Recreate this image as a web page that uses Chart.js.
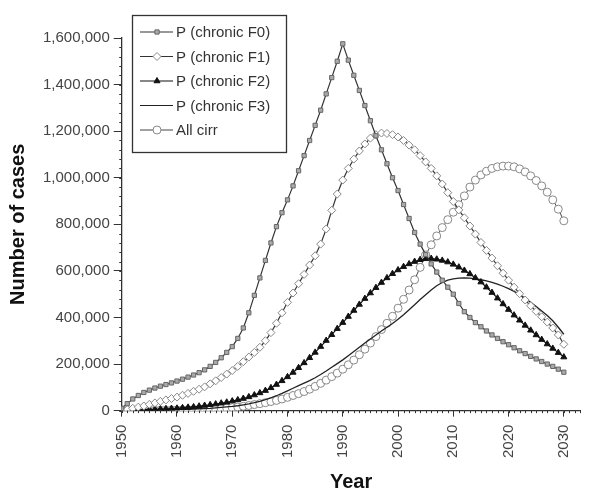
<!DOCTYPE html>
<html>
<head>
<meta charset="utf-8">
<script src="https://cdn.jsdelivr.net/npm/chart.js@4.4.0/dist/chart.umd.min.js"></script>
<style>
  html, body { margin: 0; padding: 0; background: #fff; }
  #wrap { width: 590px; height: 491px; }
</style>
</head>
<body>
<div id="wrap"><canvas id="myChart"></canvas></div>
<script>
// years 1950..2030, one point per year
const years = Array.from({ length: 81 }, (_, i) => 1950 + i);
const xTicks = [1950, 1960, 1970, 1980, 1990, 2000, 2010, 2020, 2030];
const yTicks = [0, 200000, 400000, 600000, 800000, 1000000, 1200000, 1400000, 1600000];

const chronicF0 = [
  10000, 30000, 50000, 65000, 78000, 88000, 97000, 105000, 112000, 119000,
  127000, 135000, 144000, 153000, 163000, 175000, 190000, 207000, 227000, 250000,
  275000, 310000, 355000, 420000, 495000, 570000, 645000, 720000, 790000, 850000,
  905000, 965000, 1030000, 1095000, 1160000, 1225000, 1290000, 1360000, 1430000, 1500000,
  1575000, 1505000, 1440000, 1375000, 1310000, 1245000, 1180000, 1120000, 1060000, 1000000,
  945000, 885000, 825000, 765000, 715000, 670000, 630000, 595000, 560000, 530000,
  500000, 460000, 425000, 400000, 378000, 360000, 342000, 325000, 310000, 296000,
  283000, 270000, 257000, 245000, 233000, 222000, 211000, 200000, 190000, 178000,
  165000
];
const chronicF1 = [
  0, 5000, 10000, 15000, 20000, 27000, 33000, 40000, 46000, 52000,
  58000, 66000, 74000, 83000, 92000, 102000, 115000, 128000, 142000, 157000,
  172000, 190000, 210000, 230000, 250000, 272000, 300000, 335000, 375000, 420000,
  465000, 505000, 545000, 585000, 625000, 665000, 715000, 780000, 860000, 930000,
  990000, 1040000, 1080000, 1115000, 1145000, 1170000, 1185000, 1192000, 1190000, 1185000,
  1175000, 1160000, 1140000, 1120000, 1095000, 1068000, 1040000, 1008000, 973000, 936000,
  898000, 862000, 828000, 793000, 758000, 722000, 688000, 655000, 622000, 590000,
  560000, 530000, 502000, 475000, 450000, 426000, 403000, 380000, 355000, 325000,
  285000
];
const chronicF2 = [
  0, 1000, 2000, 3000, 4000, 5000, 6000, 7000, 8000, 9000,
  10000, 12000, 14000, 16000, 19000, 22000, 25000, 28000, 32000, 36000,
  41000, 46000, 52000, 59000, 67000, 76000, 86000, 98000, 112000, 128000,
  145000, 164000, 184000, 205000, 227000, 250000, 275000, 301000, 326000, 352000,
  378000, 404000, 430000, 456000, 481000, 505000, 528000, 550000, 570000, 588000,
  604000, 618000, 630000, 640000, 648000, 652000, 653000, 650000, 645000, 638000,
  628000, 616000, 602000, 587000, 570000, 552000, 530000, 507000, 483000, 458000,
  434000, 410000, 388000, 366000, 345000, 325000, 305000, 286000, 267000, 249000,
  230000
];
const chronicF3 = [
  0, 500, 1000, 1500, 2000, 2500, 3000, 3500, 4000, 4500,
  5000, 5500, 6000, 7000, 8000, 9000, 10000, 12000, 14000, 16000,
  18000, 21000, 25000, 29000, 34000, 40000, 47000, 55000, 64000, 74000,
  85000, 96000, 107000, 118000, 129000, 141000, 155000, 170000, 186000, 202000,
  218000, 236000, 254000, 272000, 290000, 308000, 325000, 342000, 358000, 374000,
  392000, 412000, 433000, 455000, 477000, 498000, 518000, 536000, 550000, 560000,
  566000, 569000, 570000, 569000, 566000, 562000, 557000, 551000, 543000, 534000,
  524000, 512000, 498000, 482000, 465000, 447000, 428000, 408000, 386000, 358000,
  328000
];
const allCirr = [
  0, 200, 400, 600, 800, 1000, 1300, 1600, 2000, 2400,
  2800, 3300, 3800, 4400, 5000, 6000, 7000, 8000, 9500, 11000,
  13000, 15500, 18500, 22000, 26000, 30000, 34000, 39000, 44000, 50000,
  57000, 65000, 73000, 82000, 92000, 104000, 117000, 131000, 146000, 161000,
  178000, 197000, 217000, 240000, 264000, 290000, 318000, 348000, 375000, 405000,
  440000, 478000, 518000, 562000, 615000, 668000, 712000, 750000, 786000, 820000,
  852000, 884000, 922000, 960000, 990000, 1012000, 1028000, 1040000, 1047000, 1050000,
  1050000, 1047000, 1038000, 1025000, 1008000, 988000, 965000, 938000, 905000, 865000,
  815000
];

const FONT = '"Liberation Sans", Arial, sans-serif';

// little ticks between the labelled ones, and the boxed legend inside the plot
const extras = {
  id: 'extras',
  afterDraw(chart) {
    const c = chart.ctx;
    const xs = chart.scales.x, ys = chart.scales.y;
    c.save();
    c.strokeStyle = '#333';
    c.lineWidth = 1;
    c.beginPath();
    for (let yr = 1950; yr <= 2033; yr++) {
      const px = Math.round(xs.getPixelForValue(yr)) + 0.5;
      c.moveTo(px, ys.bottom);
      c.lineTo(px, ys.bottom + 2.5);
    }
    for (let v = 0; v <= 1600000; v += 40000) {
      const py = Math.round(ys.getPixelForValue(v)) + 0.5;
      c.moveTo(xs.left, py);
      c.lineTo(xs.left - 2.5, py);
    }
    c.stroke();

    // legend box
    const bx = 132, by = 15, bw = 154, bh = 137;
    c.strokeStyle = '#333';
    c.lineWidth = 1.3;
    c.strokeRect(bx + 0.5, by + 0.5, bw, bh);
    c.font = '15px ' + FONT;
    c.textBaseline = 'middle';
    chart.data.datasets.forEach((ds, i) => {
      const ry = by + 17 + i * 24.5;
      c.strokeStyle = ds.borderColor;
      c.lineWidth = 1.2;
      c.beginPath();
      c.moveTo(bx + 8, ry);
      c.lineTo(bx + 41, ry);
      c.stroke();
      if (ds.pointRadius > 0) {
        c.fillStyle = ds.pointBackgroundColor;
        c.strokeStyle = ds.pointBorderColor;
        c.lineWidth = ds.pointBorderWidth;
        Chart.helpers.drawPoint(c, {
          pointStyle: ds.pointStyle,
          radius: ds.pointRadius,
          borderWidth: ds.pointBorderWidth
        }, bx + 25, ry);
      }
      c.fillStyle = '#333';
      c.fillText(ds.label, bx + 44, ry + 1);
    });
    c.restore();
  }
};

const ctx = document.getElementById('myChart');
const myChart = new Chart(ctx, {
  type: 'line',
  data: {
    labels: years,
    datasets: [{
      label: 'P (chronic F0)',
      data: chronicF0,
      borderColor: '#333',
      borderWidth: 1.2,
      pointStyle: 'rect',
      pointRadius: 3,
      pointBorderWidth: 1,
      pointBackgroundColor: '#aaa',
      pointBorderColor: '#666',
      fill: false
    }, {
      label: 'P (chronic F1)',
      data: chronicF1,
      borderColor: '#333',
      borderWidth: 1.2,
      pointStyle: 'rectRot',
      pointRadius: 4,
      pointBorderWidth: 1,
      pointBackgroundColor: '#fff',
      pointBorderColor: '#888',
      fill: false
    }, {
      label: 'P (chronic F2)',
      data: chronicF2,
      borderColor: '#111',
      borderWidth: 1.2,
      pointStyle: 'triangle',
      pointRadius: 3.5,
      pointBorderWidth: 1,
      pointBackgroundColor: '#111',
      pointBorderColor: '#111',
      fill: false
    }, {
      label: 'P (chronic F3)',
      data: chronicF3,
      borderColor: '#222',
      borderWidth: 1.3,
      pointRadius: 0,
      pointBorderWidth: 0,
      fill: false
    }, {
      label: 'All cirr',
      data: allCirr,
      borderColor: '#444',
      borderWidth: 1,
      pointStyle: 'circle',
      pointRadius: 4,
      pointBorderWidth: 1,
      pointBackgroundColor: '#fff',
      pointBorderColor: '#888',
      fill: false
    }]
  },
  options: {
    responsive: true,
    maintainAspectRatio: false,
    animation: false,
    layout: { padding: { top: 38, right: 0, bottom: 0, left: 2 } },
    plugins: {
      legend: { display: false },
      tooltip: { enabled: false }
    },
    scales: {
      x: {
        type: 'linear',
        min: 1950,
        max: 2033,
        afterBuildTicks: (axis) => { axis.ticks = xTicks.map(v => ({ value: v })); },
        grid: { display: true, drawOnChartArea: false, drawTicks: true, tickLength: 6, color: '#333' },
        border: { display: true, color: '#333', width: 1.3 },
        ticks: {
          minRotation: 90,
          maxRotation: 90,
          padding: 8,
          color: '#444',
          font: { family: FONT, size: 15 },
          callback: (v) => String(v)
        },
        title: {
          display: true,
          text: 'Year',
          color: '#111',
          padding: { top: 7, bottom: 0 },
          font: { family: FONT, size: 20, weight: 'bold', lineHeight: 0.9 }
        }
      },
      y: {
        min: 0,
        max: 1600000,
        afterBuildTicks: (axis) => { axis.ticks = yTicks.map(v => ({ value: v })); },
        grid: { display: true, drawOnChartArea: false, drawTicks: true, tickLength: 8, color: '#333' },
        border: { display: true, color: '#333', width: 1.3 },
        ticks: {
          padding: 4,
          color: '#444',
          font: { family: FONT, size: 15 },
          callback: (v) => v.toLocaleString('en-US')
        },
        title: {
          display: true,
          text: 'Number of cases',
          color: '#111',
          padding: { top: 4, bottom: 9 },
          font: { family: FONT, size: 20, weight: 'bold' }
        }
      }
    }
  },
  plugins: [extras]
});
</script>
</body>
</html>
